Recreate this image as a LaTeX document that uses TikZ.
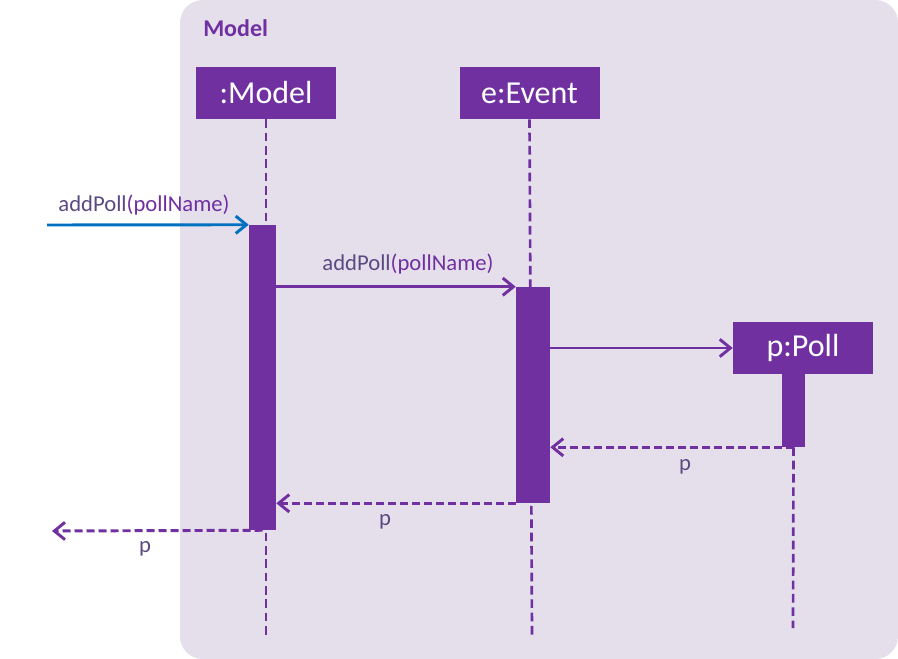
\documentclass[tikz,border=0pt]{standalone}
\usepackage{fontspec}
\setmainfont{Carlito}
\usetikzlibrary{arrows.meta}
\definecolor{purp}{HTML}{7030A0}
\definecolor{bgp}{HTML}{E5DFEC}
\definecolor{blu}{HTML}{0070C0}
\definecolor{slate}{HTML}{5B4A82}
\begin{document}
\begin{tikzpicture}[x=0.75pt,y=-0.75pt,
  obj/.style={fill=purp,text=white,minimum width=105pt,minimum height=39pt,inner sep=0pt,font=\fontsize{24}{28}\selectfont},
  act/.style={fill=purp,inner sep=0pt},
  life/.style={purp,line width=2pt,dash pattern=on 6.5pt off 3.5pt},
  msg/.style={purp,line width=2.2pt,-{Straight Barb[length=8pt,width=13pt,line width=2.2pt]}},
  ret/.style={msg,dash pattern=on 6pt off 3pt},
  lbl/.style={font=\fontsize{17}{20}\selectfont,text=slate,inner sep=1pt}]
\useasboundingbox (0,0) rectangle (898,659);
\fill[bgp,rounded corners=17pt] (180,0) rectangle (898,659);
\node[font=\bfseries\fontsize{18}{22}\selectfont,text=purp,anchor=west,inner sep=0pt] (title) at (203,28) {Model};
% objects
\node[obj] (model) at (266,93) {:Model};
\node[obj] (event) at (529.5,93) {e:Event};
\node[obj] (poll) at (803,348) {p:Poll};
% lifeline ends
\coordinate (mend) at (266,636);
\coordinate (eend) at (532,636);
\coordinate (pend) at (793,628);
\draw[life] (model.south) -- (mend);
\draw[life] (event.south) -- (eend);
% activations
\node[act,minimum width=20.25pt,minimum height=228.75pt] (a1) at (262.5,377.5) {};
\node[act,minimum width=25.5pt,minimum height=162pt] (a2) at (533,395) {};
\node[act,minimum width=17.25pt,minimum height=54.75pt] (a3) at (793.5,410.5) {};
\draw[life] (a3.south) -- (pend);
% messages
\coordinate (in1) at (47,225);
\coordinate (out1) at (52,531);
\draw[msg,blu] (in1) -- (a1.north west);
\node[lbl] (l1) at (144,205) {\textcolor{slate}{addPoll}\textcolor{purp}{(pollName)}};
\draw[msg] (a1.east |- a2.north) -- (a2.north west);
\node[lbl] (l2) at (408,264) {\textcolor{slate}{addPoll}\textcolor{purp}{(pollName)}};
\draw[msg] (a2.east |- poll.west) -- (poll.west);
\draw[ret] (a3.south) -- (a2.east |- a3.south);
\node[lbl] (l3) at (685,467) {p};
\draw[ret] (a2.south west) -- (a1.east |- a2.south);
\node[lbl] (l4) at (385,522) {p};
\draw[ret] (a1.south) -- (out1);
\node[lbl] (l5) at (145,549) {p};
\end{tikzpicture}
\end{document}
